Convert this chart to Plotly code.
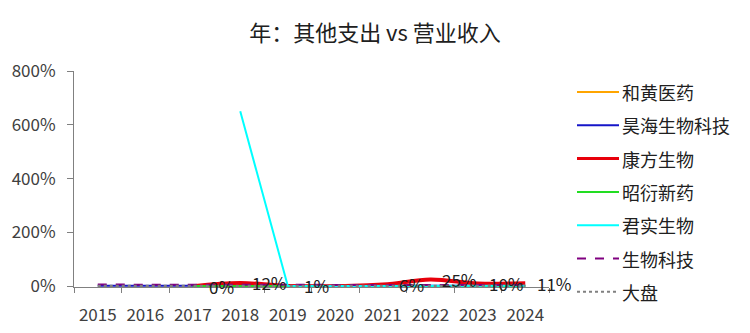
import plotly.graph_objects as go

years = ["2015", "2016", "2017", "2018", "2019", "2020", "2021", "2022", "2023", "2024"]

hehuang = [None, None, None, None, 1, 1, 1, 1, 1, 1]
haohai = [2, 2, 2, 2, 2, 2, 2, 2, 2, 2]
kangfang = [None, None, 0, 12, 1, None, 6, 25, 10, 11]
zhaoyan = [None, None, 1, 1, 1, 1, 1, 1, 1, 1]
junshi = [None, None, None, 650, 2, 1, 1, 2, 2, 2]
sector = [6, 6, 5, 5, 5, 5, 4, 4, 4, 4]
market = [1, 1, 1, 1, 1, 1, 1, 1, 1, 1]

names = ["和黄医药", "昊海生物科技", "康方生物", "昭衍新药", "君实生物", "生物科技", "大盘"]
series = [hehuang, haohai, kangfang, zhaoyan, junshi, sector, market]
colors = ["#FFA500", "#1515C8", "#E8000B", "#22DD22", "#00FFFF", "#800080", "#808080"]
widths = [2, 2, 4, 2, 2, 2, 2.5]
leg_widths = [2, 2, 3, 2, 2, 2, 2]
dashes = ["solid", "solid", "solid", "solid", "solid", "dash", "dot"]
shapes_ = ["linear", "linear", "spline", "linear", "linear", "linear", "linear"]

ytick_vals = [0, 200, 400, 600, 800]
ytick_text = ["0%", "200%", "400%", "600%", "800%"]

FONT = "Noto Sans CJK SC"
TXT = "#404040"

fig = go.Figure()
for i, (n, s) in enumerate(zip(names, series)):
    fig.add_trace(go.Scatter(
        x=years, y=s, name=n, mode="lines", showlegend=False,
        line=dict(color=colors[i], width=widths[i], dash=dashes[i], shape=shapes_[i]),
        connectgaps=True,
    ))

annotations = []
for idx, v in enumerate(kangfang):
    if v is None:
        continue
    annotations.append(dict(
        x=idx, y=v, xref="x", yref="y", text=f"{v}%", showarrow=False,
        xshift=29, font=dict(family=FONT, size=17, color="#202020"),
    ))

# manual legend (paper coordinates)
shapes = []
leg_x0, leg_x1, leg_tx = 577, 619, 620
leg_y0, leg_dy = 92, 33.3
for i, n in enumerate(names):
    yp = leg_y0 + i * leg_dy
    shapes.append(dict(type="line", xref="paper", yref="paper",
                       x0=(leg_x0 - 74) / 475, x1=(leg_x1 - 74) / 475,
                       y0=(287 - yp) / 216, y1=(287 - yp) / 216,
                       line=dict(color=colors[i], width=leg_widths[i], dash=dashes[i])))
    annotations.append(dict(x=(leg_tx - 74) / 475, y=(287 - yp) / 216, xref="paper", yref="paper",
                            xanchor="left", yanchor="middle", text=n, showarrow=False,
                            font=dict(family=FONT, size=18, color="#202020")))

fig.update_layout(
    width=750, height=333,
    margin=dict(l=74, r=201, t=71, b=46),
    paper_bgcolor="white", plot_bgcolor="white",
    title=dict(text="年：其他支出 vs 营业收入", x=0.5, xanchor="center", y=0.9, yanchor="middle",
               xref="container",
               font=dict(family=FONT, size=22, color="#202020")),
    font=dict(family=FONT, size=16, color=TXT),
    showlegend=False,
    annotations=annotations,
    shapes=shapes,
)
fig.update_xaxes(type="category", tickson="boundaries", ticks="outside", ticklen=5,
                 tickcolor="#808080", showline=True, linecolor="#808080", linewidth=1,
                 showgrid=False, zeroline=False, range=[-0.5, 9.5], ticklabelstandoff=13,
                 automargin=False,
                 tickfont=dict(family=FONT, size=17, color=TXT))
fig.update_yaxes(range=[-3, 800], tickmode="array", tickvals=ytick_vals, ticktext=ytick_text,
                 ticks="outside", ticklen=6, tickcolor="#808080", showline=True,
                 linecolor="#808080", linewidth=1, showgrid=False, zeroline=False,
                 ticklabelstandoff=8, automargin=False,
                 tickfont=dict(family=FONT, size=17, color=TXT))

fig.write_html("out.html")
